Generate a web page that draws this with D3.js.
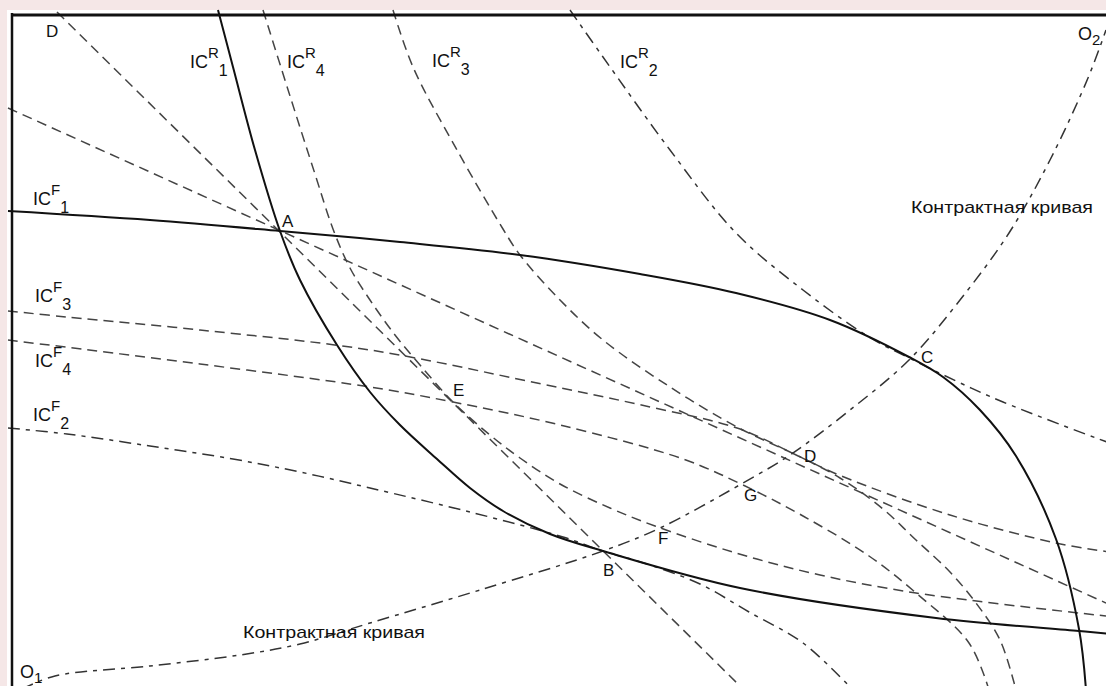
<!DOCTYPE html>
<html><head><meta charset="utf-8">
<script src="https://cdn.jsdelivr.net/npm/d3@7"></script>
<style>
html,body{margin:0;padding:0;background:#f5e7e7;overflow:hidden;}
svg{display:block;}
text{font-family:"Liberation Sans",Arial,Helvetica,sans-serif;fill:#111;}
</style></head><body>
<svg id="c" width="1106" height="686"></svg>
<script>
// Units of the two goods, measured from O1 (bottom-left corner of the box)
const icF1 = [[-4,475],[138,466],[268,455],[388,444],[508,431],[628,412],[724,393],[818,366],[897,329],[931,309],[968,276],[1004,230],[1044,147],[1067,57],[1074,-4]];
const icR1 = [[206,676],[221,619],[243,536],[268,455],[288,406],[325,341],[358,294],[388,261],[425,227],[458,198],[491,175],[538,152],[591,135],[728,98],[924,68],[1067,55],[1098,52]];
const icR4 = [[251,676],[278,590],[303,512],[321,457],[338,418],[358,386],[383,351],[408,321],[441,284],[478,251],[508,228],[548,202],[598,178],[643,160],[724,133],[808,111],[904,93],[1094,70]];
const icR3 = [[381,676],[401,619],[445,536],[491,457],[508,431],[548,386],[591,346],[658,299],[725,259],[778,234],[827,211],[938,171],[1044,143],[1098,134]];
const icR2 = [[558,676],[591,629],[658,536],[724,453],[791,396],[857,349],[897,328],[944,305],[991,284],[1084,248],[1098,243]];
const icF3 = [[-4,375],[55,369],[188,356],[358,336],[525,303],[638,279],[725,258],[778,234],[828,208],[871,177],[904,146],[938,114],[964,83],[988,46],[1004,-4]];
const icF4 = [[-4,346],[188,322],[358,299],[441,284],[548,261],[671,227],[731,201],[791,170],[857,130],[904,93],[957,43],[977,-4]];
const icF2 = [[-4,258],[55,252],[138,240],[221,227],[288,214],[358,198],[458,174],[551,149],[591,135],[635,122],[688,102],[737,74],[791,43],[841,-4]];
const contract = [[10,-3],[43,10],[138,20],[228,31],[288,42],[358,63],[468,96],[591,135],[648,158],[731,203],[778,231],[838,276],[897,326],[948,386],[997,453],[1038,526],[1076,608],[1094,656]];
const priceAB = [[45,674],[728,0]];
const priceAD = [[-4,578],[1094,83]];

const curveLabels = [
  {base:"IC", sup:"R", sub:"1", at:[178,618]},
  {base:"IC", sup:"R", sub:"4", at:[275,618]},
  {base:"IC", sup:"R", sub:"3", at:[420,619]},
  {base:"IC", sup:"R", sub:"2", at:[608,618]},
  {base:"IC", sup:"F", sub:"1", at:[21,481]},
  {base:"IC", sup:"F", sub:"3", at:[23,384]},
  {base:"IC", sup:"F", sub:"4", at:[23,319]},
  {base:"IC", sup:"F", sub:"2", at:[21,265]}
];
const pointLabels = [
  {t:"D", at:[34,649]}, {t:"A", at:[270,459]}, {t:"E", at:[441,290]},
  {t:"C", at:[909,323]}, {t:"D", at:[792,224]}, {t:"G", at:[732,185]},
  {t:"F", at:[646,142]}, {t:"B", at:[591,110]}
];
const origins = [{t:"O", sub:"1", at:[8,8]}, {t:"O", sub:"2", at:[1066,646]}];
const contractLabels = [{t:"Контрактная кривая", at:[899,473]}, {t:"Контрактная кривая", at:[231,48]}];

const svg = d3.select("#c");
const x = d3.scaleLinear().domain([0,1094]).range([12,1106]);
const y = d3.scaleLinear().domain([0,671]).range([686,15]);

svg.append("rect").attr("x",7).attr("y",10).attr("width",1099).attr("height",676).attr("fill","#fff");

const line = d3.line().x(d=>x(d[0])).y(d=>y(d[1])).curve(d3.curveCatmullRom.alpha(0.5));
const straight = d3.line().x(d=>x(d[0])).y(d=>y(d[1]));

const DASH = "10,6", DASHDOT = "12,6,4,6";
const series = [
  {d:priceAB, gen:straight, dash:DASH, w:1.5, c:"#444"},
  {d:priceAD, gen:straight, dash:DASH, w:1.5, c:"#444"},
  {d:icR4, gen:line, dash:DASH, w:1.5, c:"#444"},
  {d:icR3, gen:line, dash:DASH, w:1.5, c:"#444"},
  {d:icF3, gen:line, dash:DASH, w:1.5, c:"#444"},
  {d:icF4, gen:line, dash:DASH, w:1.5, c:"#444"},
  {d:icR2, gen:line, dash:DASHDOT, w:1.5, c:"#333"},
  {d:icF2, gen:line, dash:DASHDOT, w:1.5, c:"#333"},
  {d:contract, gen:line, dash:DASHDOT, w:1.5, c:"#333"},
  {d:icF1, gen:line, dash:null, w:2, c:"#111"},
  {d:icR1, gen:line, dash:null, w:2, c:"#111"}
];
svg.append("g").selectAll("path").data(series).join("path")
  .attr("d", s=>s.gen(s.d)).attr("fill","none")
  .attr("stroke", s=>s.c).attr("stroke-width", s=>s.w)
  .attr("stroke-dasharray", s=>s.dash);

// box edges (axes of O1)
svg.append("line").attr("x1",x(0)).attr("x2",x(0)).attr("y1",y(671)-2).attr("y2",686).attr("stroke","#111").attr("stroke-width",2.5);
svg.append("line").attr("x1",x(0)-1).attr("x2",1106).attr("y1",y(671)).attr("y2",y(671)).attr("stroke","#111").attr("stroke-width",3);

const cl = svg.append("g").selectAll("text").data(curveLabels).join("text")
  .attr("x", d=>x(d.at[0])).attr("y", d=>y(d.at[1])).attr("font-size",18);
cl.append("tspan").text(d=>d.base);
cl.append("tspan").attr("dy",-10).attr("font-size",15).text(d=>d.sup);
cl.append("tspan").attr("dy",18).attr("font-size",16).text(d=>d.sub);

svg.append("g").selectAll("text").data(pointLabels).join("text")
  .attr("x", d=>x(d.at[0])).attr("y", d=>y(d.at[1])).attr("font-size",17).text(d=>d.t);

const ol = svg.append("g").selectAll("text").data(origins).join("text")
  .attr("x", d=>x(d.at[0])).attr("y", d=>y(d.at[1])).attr("font-size",18);
ol.append("tspan").text(d=>d.t);
ol.append("tspan").attr("dy",5).attr("font-size",15).text(d=>d.sub);

svg.append("g").selectAll("text").data(contractLabels).join("text")
  .attr("x", d=>x(d.at[0])).attr("y", d=>y(d.at[1])).attr("font-size",17)
  .attr("textLength",182).attr("lengthAdjust","spacingAndGlyphs").text(d=>d.t);
</script>
</body></html>
